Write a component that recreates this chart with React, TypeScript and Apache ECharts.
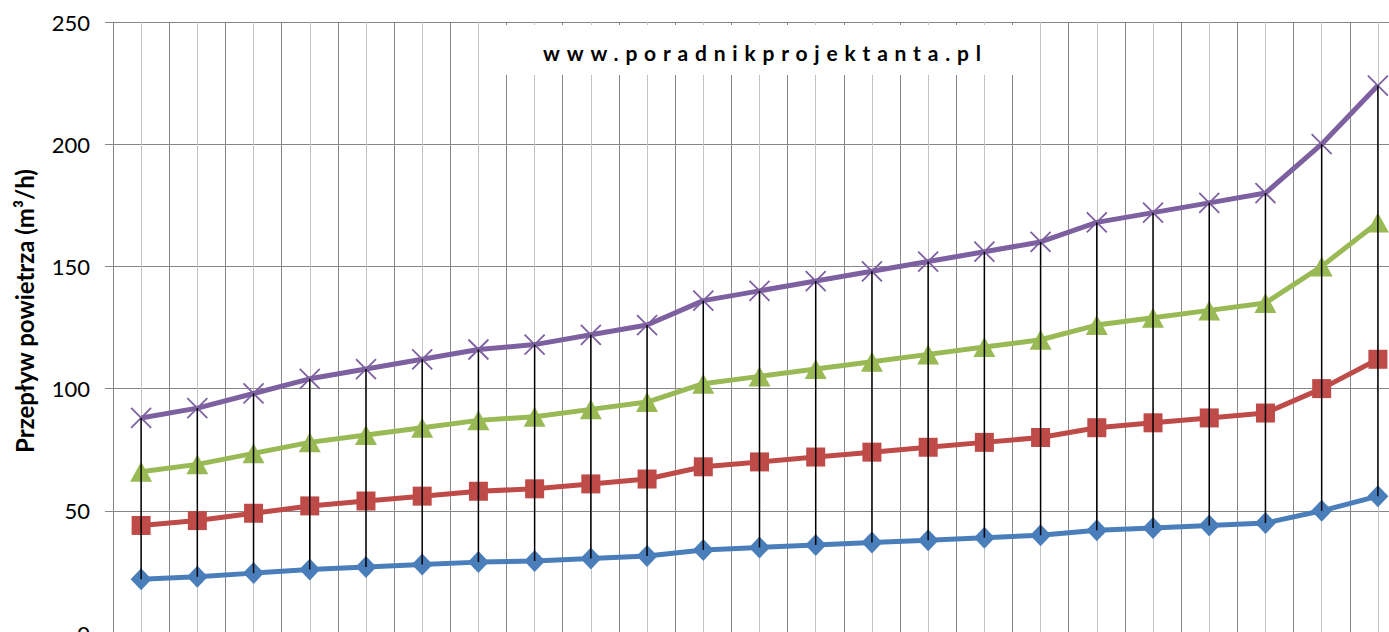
import React, { useEffect, useRef } from 'react';
import * as echarts from 'echarts';

const categories = ['1', '2', '3', '4', '5', '6', '7', '8', '9', '10', '11', '12', '13', '14', '15', '16', '17', '18', '19', '20', '21', '22', '23'];
const seriesBlue = [22, 23, 24.5, 26, 27, 28, 29, 29.5, 30.5, 31.5, 34, 35, 36, 37, 38, 39, 40, 42, 43, 44, 45, 50, 56];
const seriesRed = [44, 46, 49, 52, 54, 56, 58, 59, 61, 63, 68, 70, 72, 74, 76, 78, 80, 84, 86, 88, 90, 100, 112];
const seriesGreen = [66, 69, 73.5, 78, 81, 84, 87, 88.5, 91.5, 94.5, 102, 105, 108, 111, 114, 117, 120, 126, 129, 132, 135, 150, 168];
const seriesPurple = [88, 92, 98, 104, 108, 112, 116, 118, 122, 126, 136, 140, 144, 148, 152, 156, 160, 168, 172, 176, 180, 200, 224];
const yTicks = { min: 0, max: 250, interval: 50 };
const TITLE = 'www.poradnikprojektanta.pl';
const Y_TITLE = 'Przepływ powietrza (m³/h)';
const LETTER_SPACING = 6.8;

const FONT = 'Lato, "Open Sans", sans-serif';
const GRID_DARK = '#878787';
const GRID_LIGHT = '#c3c3c3';

export default function App() {
  const ref = useRef<HTMLDivElement>(null);
  useEffect(() => {
    const el = ref.current as HTMLDivElement;
    const chart = echarts.init(el, undefined, { renderer: 'svg' });
    const lineBase = (name: string, data: number[], color: string, symbol: string, size: any, extra: any = {}) => ({
      type: 'line',
      name,
      data,
      xAxisIndex: 0,
      yAxisIndex: 0,
      symbol,
      symbolSize: size,
      showAllSymbol: true,
      silent: true,
      lineStyle: { color, width: 5 },
      itemStyle: { color, ...extra },
      z: 3,
    });
    chart.setOption({
      animation: false,
      textStyle: { fontFamily: FONT },
      grid: { left: 113, top: 22, width: 1293, height: 611, containLabel: false },
      xAxis: [
        {
          type: 'category',
          data: categories,
          boundaryGap: true,
          axisLine: { show: true, lineStyle: { color: GRID_DARK } },
          axisTick: { show: false },
          axisLabel: { show: false },
          splitLine: { show: false },
        },
        {
          type: 'value',
          min: 0,
          max: categories.length * 2,
          interval: 2,
          position: 'bottom',
          axisLine: { show: false },
          axisTick: { show: false },
          axisLabel: { show: false },
          splitLine: { show: true, lineStyle: { color: GRID_DARK, width: 1 } },
          minorTick: { show: false, splitNumber: 2 },
          minorSplitLine: { show: true, lineStyle: { color: GRID_LIGHT, width: 1 } },
        },
      ],
      yAxis: {
        type: 'value',
        min: yTicks.min,
        max: yTicks.max,
        interval: yTicks.interval,
        axisLine: { show: true, lineStyle: { color: GRID_DARK, width: 1 } },
        axisTick: { show: true, length: 8, inside: false, lineStyle: { color: GRID_DARK } },
        axisLabel: { fontSize: 22, color: '#000', margin: 23, fontFamily: FONT },
        splitLine: { show: true, lineStyle: { color: GRID_DARK, width: 1 } },
      },
      graphic: [
        {
          type: 'rect',
          z: 50,
          shape: { x: 482, y: 25, width: 543, height: 50 },
          style: { fill: '#fff', stroke: 'none' },
          silent: true,
        },
        {
          type: 'text',
          z: 51,
          x: 762 + LETTER_SPACING / 2,
          y: 52,
          silent: true,
          style: {
            text: TITLE,
            fontFamily: FONT,
            fontWeight: 'bold',
            fontSize: 21,
            fill: '#000',
            textAlign: 'center',
            textVerticalAlign: 'middle',
          },
        },
        {
          type: 'text',
          z: 51,
          x: 24,
          y: 311,
          rotation: Math.PI / 2,
          silent: true,
          style: {
            text: Y_TITLE,
            fontFamily: FONT,
            fontWeight: 'bold',
            fontSize: 24,
            fill: '#000',
            textAlign: 'center',
            textVerticalAlign: 'middle',
          },
        },
      ],
      series: [
        lineBase('Seria 1', seriesBlue, '#4A7EBB', 'diamond', [21, 22]),
        lineBase('Seria 2', seriesRed, '#BE4B48', 'rect', 19),
        lineBase('Seria 3', seriesGreen, '#98B954', 'triangle', [22, 20]),
        {
          ...lineBase('Seria 4', seriesPurple, '#7D60A0', 'path://M0,0L20,20M20,0L0,20', 20, { borderColor: '#7D60A0', borderWidth: 1.8 }),
        },
        {
          type: 'custom',
          name: 'high-low',
          xAxisIndex: 0,
          yAxisIndex: 0,
          silent: true,
          z: 10,
          data: categories.map((_, i) => [i, seriesBlue[i], seriesPurple[i]]),
          encode: { x: 0, y: [1, 2] },
          renderItem: (params: any, api: any) => {
            const i = api.value(0);
            const p1 = api.coord([i, api.value(1)]);
            const p2 = api.coord([i, api.value(2)]);
            return {
              type: 'line',
              shape: { x1: p1[0], y1: p1[1], x2: p2[0], y2: p2[1] },
              style: { stroke: '#000', lineWidth: 1.5 },
            };
          },
        },
      ],
    });
    const apply = () => {
      el.querySelectorAll('text').forEach((t) => {
        if (t.textContent === TITLE) t.setAttribute('letter-spacing', String(LETTER_SPACING));
      });
    };
    apply();
    chart.on('finished', apply);
    return () => chart.dispose();
  }, []);
  return (
    <div style={{ position: 'fixed', left: 0, top: 0, width: '100vw', height: '100vh', overflow: 'hidden', background: '#fff' }}>
      <div ref={ref} style={{ width: 1420, height: 680 }} />
    </div>
  );
}
